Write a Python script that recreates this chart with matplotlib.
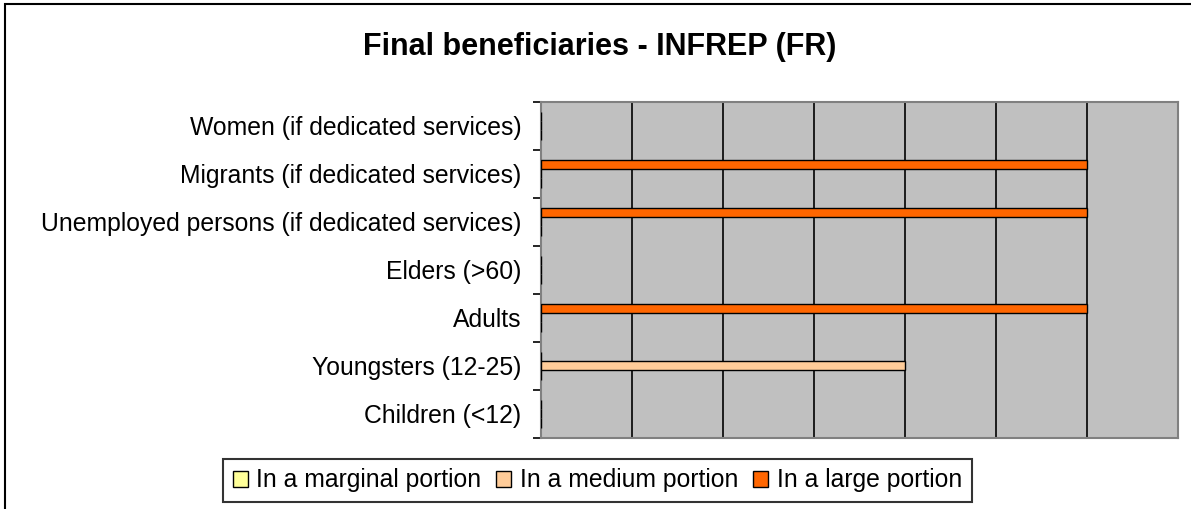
import numpy as np
import matplotlib.pyplot as plt
from matplotlib.patches import Rectangle

plt.rcParams["font.family"] = ["Liberation Sans", "DejaVu Sans"]

# categories from bottom to top (as drawn by the bar chart)
categories = ["Children (<12)", "Youngsters (12-25)", "Adults", "Elders (>60)",
              "Unemployed persons (if dedicated services)",
              "Migrants (if dedicated services)", "Women (if dedicated services)"]
marginal = [0, 0, 0, 0, 0, 0, 0]
medium = [0, 4, 0, 0, 0, 0, 0]
large = [0, 0, 6, 0, 6, 6, 0]
series_names = ["In a marginal portion", "In a medium portion", "In a large portion"]
series_colors = ["#FFFF99", "#FFCC99", "#FF6600"]

fig = plt.figure(figsize=(11.91, 5.09), dpi=100)
ax = fig.add_axes([540.7/1191, 1-437.7/509, 637/1191, 336/509])
ax.set_facecolor("#C0C0C0")

y = np.arange(len(categories))
h = 0.195
for vals, off, name, col in zip([marginal, medium, large], [-h, 0, h],
                                series_names, series_colors):
    ax.barh(y + off, vals, height=h, color=col, edgecolor="black",
            linewidth=1, label=name, zorder=3)

ax.set_xlim(0, 7)
ax.set_ylim(-0.5, len(categories) - 0.5)
ax.set_xticks(np.arange(1, 7))
ax.tick_params(axis="x", length=0, labelbottom=False)
ax.grid(axis="x", color="black", linewidth=1.2, zorder=1)
ax.set_axisbelow(True)

ax.set_yticks(y)
ax.set_yticklabels(categories, fontsize=17.8)
ax.set_yticks(np.arange(len(categories) + 1) - 0.5, minor=True)
ax.tick_params(axis="y", which="major", length=0, pad=14)
ax.tick_params(axis="y", which="minor", length=6, width=1.2, color="black")

for s in ax.spines.values():
    s.set_color("#808080")
    s.set_linewidth(1.5)

fig.text(600/1191, 1-47/509, "Final beneficiaries - INFREP (FR)", ha="center",
         va="center", fontsize=22, fontweight="bold")

leg = fig.legend(loc="center", bbox_to_anchor=(597.5/1191, 1-480.5/509),
                 ncol=3, fontsize=17.8, frameon=True, fancybox=False,
                 handlelength=0.6, handleheight=0.6, handletextpad=0.36,
                 columnspacing=0.6, borderpad=0.4, borderaxespad=0)
leg.get_frame().set_edgecolor("black")
leg.get_frame().set_linewidth(1.5)

# chart-area border (only top and left visible in the crop)
fig.patches.append(Rectangle((4.5/1191, -0.1), 1.2, 1 - 4.5/509 + 0.1,
                             transform=fig.transFigure, fill=False,
                             edgecolor="black", linewidth=1.5))

fig.savefig("out.png", dpi=100)
